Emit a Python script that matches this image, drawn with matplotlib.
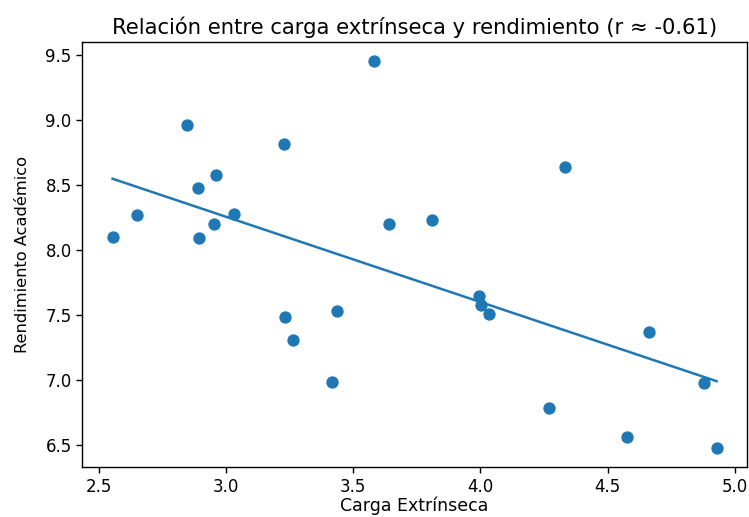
import matplotlib
matplotlib.use("Agg")
import matplotlib.pyplot as plt
import numpy as np

# Values.
carga_extrinseca = [2.554, 2.648, 2.848, 2.890, 2.960, 2.953, 2.892, 3.033,
                    3.228, 3.580, 3.642, 4.333, 3.811, 3.232, 3.438, 3.264,
                    3.417, 3.995, 4.003, 4.032, 4.664, 4.878, 4.269, 4.577,
                    4.928]
rendimiento = [8.094, 8.265, 8.960, 8.477, 8.572, 8.201, 8.089, 8.273,
               8.812, 9.449, 8.196, 8.636, 8.229, 7.485, 7.531, 7.309,
               6.979, 7.644, 7.578, 7.503, 7.370, 6.974, 6.780, 6.560,
               6.479]

x = np.asarray(carga_extrinseca)
y = np.asarray(rendimiento)

# Least-squares trend line over the observed x range.
slope, intercept = np.polyfit(x, y, 1)
xs = np.sort(x)

fig = plt.figure(figsize=(7.49, 5.17), dpi=100)
ax = fig.add_axes([0.110, 0.097, 0.887, 0.822])

ax.scatter(x, y, s=62, color="#1f77b4", zorder=2)
ax.plot(xs, slope * xs + intercept, color="#1f77b4", linewidth=1.8, zorder=3)

ax.set_title("Relación entre carga extrínseca y rendimiento (r ≈ -0.61)",
             fontsize=15.2, pad=6)
ax.set_xlabel("Carga Extrínseca", fontsize=12.5, labelpad=1)
ax.set_ylabel("Rendimiento Académico", fontsize=11.7, labelpad=11)
ax.set_xticks([2.5, 3.0, 3.5, 4.0, 4.5, 5.0])
ax.set_yticks([6.5, 7.0, 7.5, 8.0, 8.5, 9.0, 9.5])
ax.tick_params(labelsize=12, length=4.2, width=1.0)
for s in ax.spines.values():
    s.set_linewidth(1.0)

fig.savefig("out.png", dpi=100)
plt.close(fig)
